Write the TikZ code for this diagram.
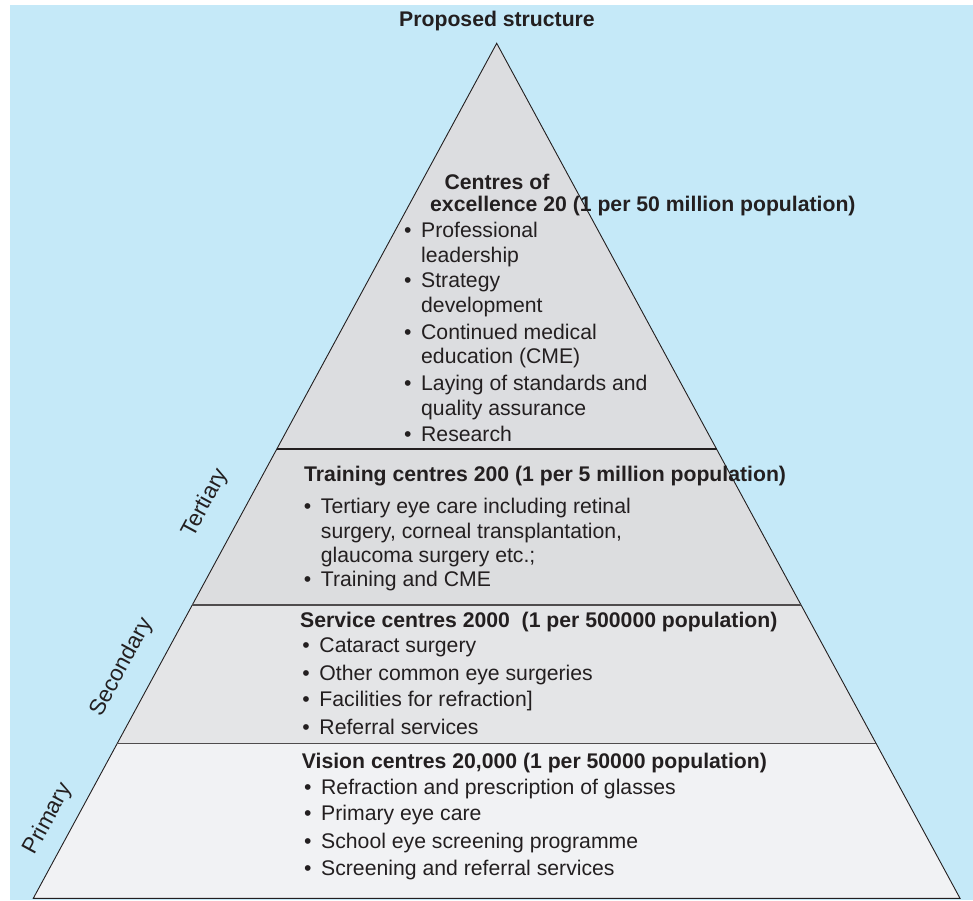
\documentclass[tikz,border=0pt]{standalone}
\usepackage{fontspec}
\setmainfont{Liberation Sans}
\usetikzlibrary{calc}
\definecolor{skyblue}{HTML}{C5E9F8}
\definecolor{topgrey}{HTML}{DCDDE0}
\definecolor{midgrey}{HTML}{DCDDDF}
\definecolor{secgrey}{HTML}{E4E5E7}
\definecolor{primgrey}{HTML}{F1F2F4}
\definecolor{ink}{HTML}{231F20}
\newcommand{\bul}{\llap{\textbullet\hspace{9.6pt}}}

\begin{document}
\begin{tikzpicture}[x=1pt,y=-1pt,
  txt/.style={inner sep=0pt,anchor=base west,text=ink,font=\fontsize{21.2pt}{25pt}\selectfont},
  head/.style={txt,font=\fontsize{21.2pt}{25pt}\selectfont\bfseries},
  tier/.style={txt,anchor=center,rotate=61.5,font=\fontsize{22.5pt}{26pt}\selectfont},
  split/.style={draw=ink!80,line width=1.1pt}]
\useasboundingbox (0,0) rectangle (973,900);
\fill[white] (0,0) rectangle (973,900);
\fill[skyblue] (10,5) rectangle (973,900);

% pyramid corners and the three cuts
\coordinate (apex) at (496.7,43.3);
\coordinate (bl) at (33.3,898.3);
\coordinate (br) at (960,898.3);
\coordinate (l1) at ($(apex)!0.4745!(bl)$);
\coordinate (r1) at ($(apex)!0.4745!(br)$);
\coordinate (l2) at ($(apex)!0.6570!(bl)$);
\coordinate (r2) at ($(apex)!0.6570!(br)$);
\coordinate (l3) at ($(apex)!0.8190!(bl)$);
\coordinate (r3) at ($(apex)!0.8190!(br)$);

\fill[topgrey] (apex) -- (l1) -- (r1) -- cycle;
\fill[midgrey] (l1) -- (l2) -- (r2) -- (r1) -- cycle;
\fill[secgrey] (l2) -- (l3) -- (r3) -- (r2) -- cycle;
\fill[primgrey] (l3) -- (bl) -- (br) -- (r3) -- cycle;
\draw[ink,line width=0.9pt,line join=miter] (bl) -- (apex) -- (br) -- cycle;
\draw[ink,line width=2pt] (l1) -- (r1);
\draw[split] (l2) -- (r2);
\draw[split] (l3) -- (r3);

\node[head,anchor=base] (title) at (497,26) {Proposed structure};

% centres of excellence
\node[head,anchor=base] (coeA) at (497,189) {Centres of};
\node[head] (coeB) at (430,211.7) {excellence 20 (1 per 50 million population)};
\node[txt] (coe1) at (421,237.7) {\bul Professional};
\node[txt] (coe1b) at (421,262) {leadership};
\node[txt] (coe2) at (421,287) {\bul Strategy};
\node[txt] (coe2b) at (421,312.5) {development};
\node[txt] (coe3) at (421,339) {\bul Continued medical};
\node[txt] (coe3b) at (421,363.5) {education (CME)};
\node[txt] (coe4) at (421,390) {\bul Laying of standards and};
\node[txt] (coe4b) at (421,415) {quality assurance};
\node[txt] (coe5) at (421,441) {\bul Research};

% training centres
\node[head] (trn) at (304,481.7) {Training centres 200 (1 per 5 million population)};
\node[txt] (trn1) at (320.7,513.3) {\bul Tertiary eye care including retinal};
\node[txt] (trn1b) at (320.7,538) {surgery, corneal transplantation,};
\node[txt] (trn1c) at (320.7,562) {glaucoma surgery etc.;};
\node[txt] (trn2) at (320.7,586.7) {\bul Training and CME};

% service centres
\node[head] (srv) at (300,627.3) {Service centres 2000\ \ (1 per 500000 population)};
\node[txt] (srv1) at (319.3,652.3) {\bul Cataract surgery};
\node[txt] (srv2) at (319.3,680) {\bul Other common eye surgeries};
\node[txt] (srv3) at (319.3,706.7) {\bul Facilities for refraction]};
\node[txt] (srv4) at (319.3,734.3) {\bul Referral services};

% vision centres
\node[head] (vis) at (301.7,768.3) {Vision centres 20,000 (1 per 50000 population)};
\node[txt] (vis1) at (321,794) {\bul Refraction and prescription of glasses};
\node[txt] (vis2) at (321,820.7) {\bul Primary eye care};
\node[txt] (vis3) at (321,848.3) {\bul School eye screening programme};
\node[txt] (vis4) at (321,875) {\bul Screening and referral services};

\node[tier] (tert) at (205.5,503) {Tertiary};
\node[tier] (sec) at (121.7,667.5) {Secondary};
\node[tier] (prim) at (48.3,819) {Primary};
\end{tikzpicture}
\end{document}
